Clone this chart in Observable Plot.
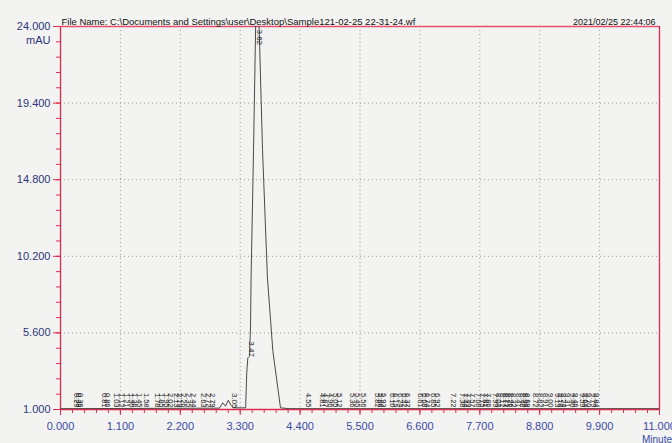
<!DOCTYPE html>
<html><head><meta charset="utf-8">
<script src="https://cdn.jsdelivr.net/npm/d3@7"></script>
<script src="https://cdn.jsdelivr.net/npm/@observablehq/plot@0.6"></script>
<style>
html,body{margin:0;padding:0;background:#f3f3f1;}
#chart svg{display:block;}
</style></head><body><div id="chart"></div>
<script>
const fileName = "File Name: C:\\Documents and Settings\\user\\Desktop\\Sample121-02-25 22-31-24.wf";
const timestamp = "2021/02/25 22:44:06";
const yUnit = "mAU";
const xUnit = "Minutes";

const xMajor = [0, 1.1, 2.2, 3.3, 4.4, 5.5, 6.6, 7.7, 8.8, 9.9, 11];
const yMajor = [1, 5.6, 10.2, 14.8, 19.4, 24];

// detector signal (minutes, mAU)
const signalTime  = [0, 2.92, 2.98, 3.03, 3.08, 3.13, 3.18, 3.40, 3.42, 3.44, 3.47, 3.49, 3.50, 3.545, 3.585, 3.615, 3.645, 3.71, 3.80, 3.90, 4.04, 4.20, 11];
const signalValue = [1.05, 1.08, 1.4, 1.2, 1.55, 1.25, 1.1, 1.1, 3.2, 4.1, 4.2, 6.0, 8.9, 16.6, 24.3, 27, 24.3, 16.6, 8.9, 4.5, 1.1, 1.05, 1.05];

// big peak labels
const bigLabelTime = [3.66];
const bigLabelText = ["3.62"];
const midLabelTime = [3.51, 3.19];
const midLabelValue = [4.1, 1.0];
const midLabelText = ["3.47", "3.05"];

// retention-time labels of small baseline peaks
const smallLabelTime = [0.29, 0.33, 0.36, 0.81, 0.86, 1.03, 1.12, 1.21, 1.30, 1.36, 1.45, 1.58, 1.78, 1.85, 1.95, 2.02, 2.13, 2.19, 2.26, 2.35, 2.44, 2.63, 2.72, 2.79,
  4.55, 4.81, 4.87, 4.96, 5.05, 5.12, 5.36, 5.45, 5.56, 5.82, 5.88, 5.93, 6.10, 6.15, 6.24, 6.32, 6.37, 6.61, 6.68, 6.74, 6.85, 6.92,
  7.22, 7.38, 7.44, 7.49, 7.57, 7.68, 7.75, 7.81, 7.86, 7.99, 8.04, 8.12, 8.17, 8.21, 8.26, 8.32, 8.41, 8.48, 8.54, 8.58, 8.72, 8.82, 8.91, 9.00,
  9.13, 9.18, 9.24, 9.31, 9.40, 9.46, 9.59, 9.64, 9.70, 9.79, 9.84];

const signal = signalTime.map((t, i) => ({t, v: signalValue[i]}));
const smallLabels = smallLabelTime.map(t => ({t, s: t.toFixed(2)}));
const midLabels = midLabelTime.map((t, i) => ({t, v: midLabelValue[i], s: midLabelText[i]}));
const bigLabels = bigLabelTime.map((t, i) => ({t, s: bigLabelText[i]}));

const red = "#e0294c";
const xBlue = "#3b4aa6";
const yBlue = "#2d3679";
const xMinor = d3.range(0, 11.0001, 0.22);
const yMinor = d3.range(1, 24.0001, 0.92);
const fmt = d3.format(".3f");

const chart = Plot.plot({
  width: 672, height: 443,
  marginLeft: 60, marginRight: 13, marginTop: 26, marginBottom: 34,
  style: {background: "#f3f3f1", fontFamily: "'Liberation Sans', Arial, sans-serif"},
  x: {domain: [0, 11], label: null},
  y: {domain: [1, 24], label: null},
  marks: [
    Plot.ruleX(xMajor.slice(1, -1), {stroke: "#9a9a9a", strokeDasharray: "1,3"}),
    Plot.ruleY(yMajor.slice(1, -1), {stroke: "#9a9a9a", strokeDasharray: "1,3"}),
    // ticks
    Plot.axisX({ticks: xMinor, tickSize: 4, tickFormat: () => "", stroke: red, label: null}),
    Plot.axisX({ticks: xMajor, tickSize: 6, tickFormat: () => "", stroke: red, label: null}),
    Plot.axisX({ticks: xMajor, tickSize: 0, tickPadding: 13, tickFormat: fmt, fill: xBlue, fontSize: 11, label: null}),
    Plot.axisY({ticks: yMinor, tickSize: 4, tickFormat: () => "", stroke: red, label: null}),
    Plot.axisY({ticks: yMajor, tickSize: 7, tickFormat: () => "", stroke: red, label: null}),
    Plot.axisY({ticks: yMajor, tickSize: 0, tickPadding: 10, tickFormat: fmt, fill: yBlue, fontSize: 11, label: null}),
    // frame
    Plot.ruleX([0], {stroke: red, strokeWidth: 1.3}),
    Plot.ruleY([1], {stroke: red, strokeWidth: 1.3}),
    Plot.ruleY([24], {stroke: "#e2506c", strokeWidth: 1.3}),
    Plot.ruleX([11], {stroke: red, strokeWidth: 1.3}),
    // signal
    Plot.line(signal, {x: "t", y: "v", stroke: "#4a4a4a", strokeWidth: 1, clip: true}),
    // peak labels
    Plot.text(smallLabels, {x: "t", y: 1, text: "s", rotate: 90, textAnchor: "end", dy: -2, fontSize: 7.5, fill: "#222"}),
    Plot.text(midLabels, {x: "t", y: "v", text: "s", rotate: 90, textAnchor: "end", dy: -1, fontSize: 8, fill: "#222"}),
    Plot.text(bigLabels, {x: "t", y: 24, text: "s", rotate: 90, textAnchor: "start", dy: 3, fontSize: 8, fill: "#222"}),
    // header / units
    Plot.text([fileName], {frameAnchor: "top-left", textAnchor: "start", lineAnchor: "bottom", dy: -2, dx: 1, fontSize: 9.5, fill: "#111"}),
    Plot.text([timestamp], {frameAnchor: "top-right", textAnchor: "end", lineAnchor: "bottom", dy: -2, dx: -4, fontSize: 9, fill: "#111"}),
    Plot.text([yUnit], {frameAnchor: "top-left", textAnchor: "end", lineAnchor: "middle", dx: -10, dy: 14, fontSize: 11, fill: yBlue}),
    Plot.text([xUnit], {x: 11, y: 1, textAnchor: "middle", lineAnchor: "middle", dy: 30, fontSize: 10, fill: xBlue})
  ]
});
document.getElementById("chart").appendChild(chart);
</script>
</body></html>
